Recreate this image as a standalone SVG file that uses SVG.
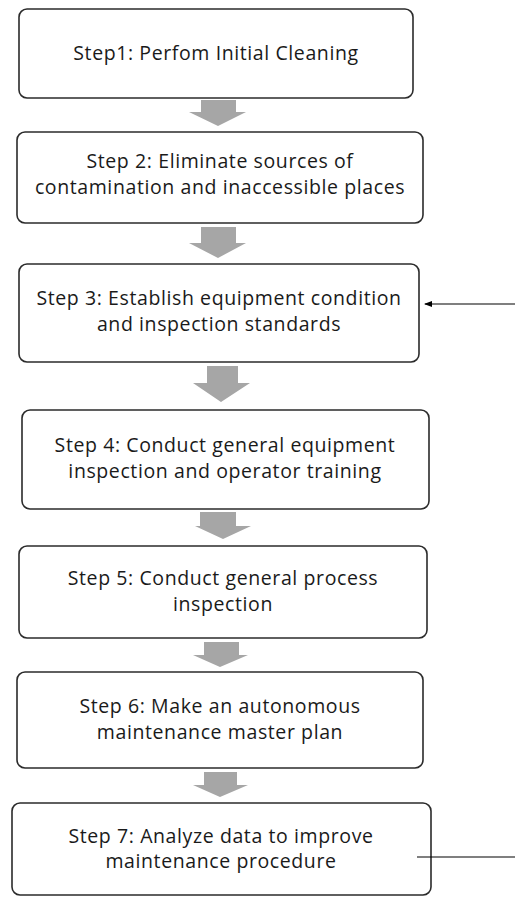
<svg xmlns="http://www.w3.org/2000/svg" width="515" height="897" viewBox="0 0 515 897">
<style>
.box{fill:#fff;stroke:#2b2b2b;stroke-width:1.6}
.t{font-family:"Open Sans","Noto Sans",sans-serif;font-size:19.5px;letter-spacing:0.6px;fill:#1a1a1a;text-anchor:middle}
.ba{fill:#a6a6a6}
.ln{stroke:#000;stroke-width:1.2;fill:none}
</style>
<defs>
<marker id="ah" markerWidth="8" markerHeight="6" refX="7" refY="3" orient="auto" markerUnits="userSpaceOnUse">
<path d="M0,0 L8,3 L0,6 Z" fill="#000"/>
</marker>
</defs>
<rect width="515" height="897" fill="#fff"/>
<g id="step1"><rect class="box" x="19" y="9" width="394" height="89" rx="8"/>
<text class="t" x="216" y="60">Step1: Perfom Initial Cleaning</text></g>
<g id="step2"><rect class="box" x="17" y="132" width="406" height="91" rx="8"/>
<text class="t" x="220" y="168">Step 2: Eliminate sources of</text>
<text class="t" x="220" y="194">contamination and inaccessible places</text></g>
<g id="step3"><rect class="box" x="19" y="264" width="400" height="98" rx="8"/>
<text class="t" x="219" y="305">Step 3: Establish equipment condition</text>
<text class="t" x="219" y="331">and inspection standards</text></g>
<g id="step4"><rect class="box" x="22" y="410" width="407" height="99" rx="8"/>
<text class="t" x="225" y="452">Step 4: Conduct general equipment</text>
<text class="t" x="225" y="478">inspection and operator training</text></g>
<g id="step5"><rect class="box" x="19" y="546" width="408" height="92" rx="8"/>
<text class="t" x="223" y="585">Step 5: Conduct general process</text>
<text class="t" x="223" y="611">inspection</text></g>
<g id="step6"><rect class="box" x="17" y="672" width="406" height="96" rx="8"/>
<text class="t" x="220" y="713">Step 6: Make an autonomous</text>
<text class="t" x="220" y="739">maintenance master plan</text></g>
<g id="step7"><rect class="box" x="12" y="803" width="419" height="92" rx="8"/>
<text class="t" x="221" y="843">Step 7: Analyze data to improve</text>
<text class="t" x="221" y="868">maintenance procedure</text></g>
<g id="connectors">
<path class="ba" d="M201,100 H236 V112 H246 L218,126 L189,112 H201 Z"/>
<path class="ba" d="M201,227 H236 V243 H246 L218,258 L189,243 H201 Z"/>
<path class="ba" d="M207,366 H238 V383 H250 L221,402 L193,383 H207 Z"/>
<path class="ba" d="M200,512 H236 V526 H251 L223,539 L195,526 H200 Z"/>
<path class="ba" d="M204,642 H239 V655 H248 L220,667 L193,655 H204 Z"/>
<path class="ba" d="M204,772 H237 V785 H248 L220,797 L193,785 H204 Z"/>
<line class="ln" x1="515" y1="304" x2="425" y2="304" marker-end="url(#ah)"/>
<line class="ln" x1="417" y1="857" x2="515" y2="857"/>
</g>
</svg>
